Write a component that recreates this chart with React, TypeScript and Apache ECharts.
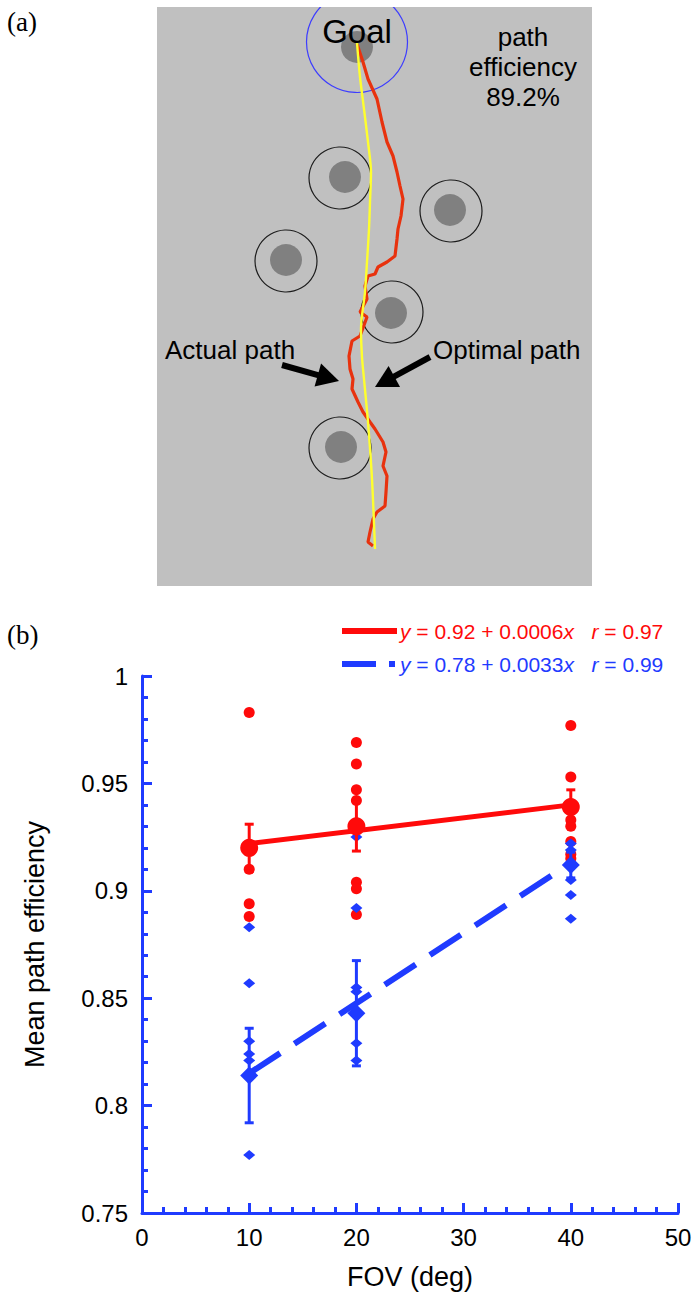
import React, { useEffect, useRef } from "react";
import * as echarts from "echarts";

// ---------- Panel (b) data ----------
const FOV = [10, 20, 40];
const redAt10 = [0.983, 0.91, 0.894, 0.888];
const redAt20 = [0.969, 0.959, 0.947, 0.942, 0.904, 0.901, 0.889];
const redAt40 = [0.977, 0.953, 0.933, 0.93, 0.923, 0.917, 0.915];
const blueAt10 = [0.883, 0.857, 0.83, 0.824, 0.821, 0.777];
const blueAt20 = [0.925, 0.892, 0.855, 0.853, 0.829, 0.821];
const blueAt40 = [0.922, 0.919, 0.905, 0.898, 0.887];
const redMeans = [0.92, 0.93, 0.939];
const redErr = [0.011, 0.0115, 0.008];
const blueMeans = [0.814, 0.843, 0.912];
const blueErr = [0.022, 0.0245, 0.006];
const fitX = [10, 40];
const redFit = [0.922, 0.94];
const blueFit = [0.815, 0.913];
const yTicks = [0.75, 0.8, 0.85, 0.9, 0.95, 1];
const xTicks = [0, 10, 20, 30, 40, 50];

// ---------- Panel (a) arena data (arena units, origin top-left) ----------
const goalRing = [[200, 35]];
const goalDisc = [[200, 40]];
const obstacleRings = [[183, 171], [294, 204], [129, 254], [235, 305], [183, 441]];
const obstacleDiscs = [[188, 170], [293, 203], [129, 253], [234, 306], [184, 440]];
const optimalPath = [
  [200, 36], [203, 70], [207, 102], [211, 135], [214, 165], [213, 195], [212, 222],
  [210, 255], [208, 285], [204, 322], [205, 350], [207, 372], [211, 415], [215, 472], [218, 542],
];
const actualPath = [
  [200, 37], [206, 55], [211, 72], [220, 92], [225, 115], [230, 135], [236, 149], [240, 165],
  [243, 179], [246, 192], [244, 209], [241, 222], [240, 232], [238, 249], [230, 255], [221, 260],
  [218, 267], [211, 269], [208, 279], [210, 292], [203, 305], [210, 310], [203, 329], [195, 334],
  [192, 349], [193, 362], [196, 372], [195, 382], [201, 395], [206, 405], [213, 415], [218, 422],
  [226, 435], [229, 445], [226, 459], [230, 469], [229, 485], [228, 499], [220, 505], [216, 512],
  [213, 525], [211, 535], [216, 539],
];

const RED = "#ff0a0a";
const BLUE = "#1f3bff";
const SANS = "Liberation Sans, Arial, Helvetica, sans-serif";
const SERIF = "Liberation Serif, Times New Roman, serif";

const pairs = (x: number, arr: number[]) => arr.map((v) => [x, v]);

function errorBars(means: number[], errs: number[], color: string) {
  return {
    type: "custom",
    xAxisIndex: 0,
    yAxisIndex: 0,
    z: 3,
    data: FOV.map((x, i) => [x, means[i] - errs[i], means[i] + errs[i]]),
    renderItem: (params: any, api: any) => {
      const x = api.value(0);
      const lo = api.coord([x, api.value(1)]);
      const hi = api.coord([x, api.value(2)]);
      const cap = 4.5;
      const style = { stroke: color, lineWidth: 3 };
      return {
        type: "group",
        children: [
          { type: "line", shape: { x1: lo[0], y1: lo[1], x2: hi[0], y2: hi[1] }, style },
          { type: "line", shape: { x1: hi[0] - cap, y1: hi[1], x2: hi[0] + cap, y2: hi[1] }, style },
          { type: "line", shape: { x1: lo[0] - cap, y1: lo[1], x2: lo[0] + cap, y2: lo[1] }, style },
        ],
      };
    },
  };
}

function arrow(tail: number[], tip: number[]) {
  const dx = tip[0] - tail[0];
  const dy = tip[1] - tail[1];
  const len = Math.hypot(dx, dy);
  const ux = dx / len;
  const uy = dy / len;
  const bx = tip[0] - 22 * ux;
  const by = tip[1] - 22 * uy;
  const nx = -uy;
  const ny = ux;
  return [
    {
      type: "line",
      z: 50,
      shape: { x1: tail[0], y1: tail[1], x2: bx + 2 * ux, y2: by + 2 * uy },
      style: { stroke: "#000", lineWidth: 6 },
    },
    {
      type: "polygon",
      z: 50,
      shape: {
        points: [
          [tip[0], tip[1]],
          [bx + 12 * nx, by + 12 * ny],
          [bx - 12 * nx, by - 12 * ny],
        ],
      },
      style: { fill: "#000" },
    },
  ];
}

export default function App() {
  const ref = useRef<HTMLDivElement>(null);

  useEffect(() => {
    if (!ref.current) return;
    const chart = echarts.init(ref.current, null, { renderer: "svg" });

    const axisCommon = {
      axisLine: { show: true, lineStyle: { color: BLUE, width: 3 } },
      axisTick: { show: true, inside: true, length: 10, lineStyle: { color: BLUE, width: 3 } },
      minorTick: { show: true, splitNumber: 5, length: 6, lineStyle: { color: BLUE, width: 3 } },
      splitLine: { show: false },
      minorSplitLine: { show: false },
    };

    const option: any = {
      animation: false,
      backgroundColor: "#ffffff",
      grid: [
        { left: 142, top: 676, width: 536, height: 537, show: false },
        {
          left: 157,
          top: 7,
          width: 435,
          height: 579,
          show: true,
          backgroundColor: "#c0c0c0",
          borderWidth: 0,
        },
      ],
      xAxis: [
        {
          type: "value",
          gridIndex: 0,
          min: xTicks[0],
          max: xTicks[xTicks.length - 1],
          interval: 10,
          ...axisCommon,
          axisLabel: {
            color: "#000",
            fontSize: 24,
            fontFamily: SANS,
            margin: 12,
            formatter: (v: number) => String(v),
          },
          name: "FOV (deg)",
          nameLocation: "middle",
          nameGap: 50,
          nameTextStyle: { color: "#000", fontSize: 27, fontFamily: SANS },
        },
        { type: "value", gridIndex: 1, min: 0, max: 435, show: false },
      ],
      yAxis: [
        {
          type: "value",
          gridIndex: 0,
          min: yTicks[0],
          max: yTicks[yTicks.length - 1],
          interval: 0.05,
          ...axisCommon,
          axisLabel: {
            color: "#000",
            fontSize: 24,
            fontFamily: SANS,
            margin: 14,
            formatter: (v: number) => String(Math.round(v * 100) / 100),
          },
          name: "Mean path efficiency",
          nameLocation: "middle",
          nameGap: 94,
          nameTextStyle: { color: "#000", fontSize: 27, fontFamily: SANS },
        },
        { type: "value", gridIndex: 1, min: 0, max: 579, inverse: true, show: false },
      ],
      series: [
        // ---------- panel (a) ----------
        {
          type: "scatter",
          xAxisIndex: 1,
          yAxisIndex: 1,
          data: obstacleDiscs,
          symbol: "circle",
          symbolSize: 32,
          itemStyle: { color: "#808080", opacity: 1 },
          z: 2,
        },
        {
          type: "scatter",
          xAxisIndex: 1,
          yAxisIndex: 1,
          data: goalDisc,
          symbol: "circle",
          symbolSize: 32,
          itemStyle: { color: "#808080", opacity: 1 },
          z: 2,
        },
        {
          type: "scatter",
          xAxisIndex: 1,
          yAxisIndex: 1,
          data: obstacleRings,
          symbol: "circle",
          symbolSize: 62,
          itemStyle: { color: "rgba(0,0,0,0)", borderColor: "#1c1c1c", borderWidth: 1.2, opacity: 1 },
          z: 2,
        },
        {
          type: "scatter",
          xAxisIndex: 1,
          yAxisIndex: 1,
          data: goalRing,
          symbol: "circle",
          symbolSize: 101,
          itemStyle: { color: "rgba(0,0,0,0)", borderColor: "#3c3cff", borderWidth: 1.2, opacity: 1 },
          z: 2,
        },
        {
          type: "line",
          xAxisIndex: 1,
          yAxisIndex: 1,
          data: actualPath,
          showSymbol: false,
          lineStyle: { color: "#e8320e", width: 3.2 },
          z: 3,
        },
        {
          type: "line",
          xAxisIndex: 1,
          yAxisIndex: 1,
          data: optimalPath,
          smooth: 0.3,
          showSymbol: false,
          lineStyle: { color: "#ffff2e", width: 2.4 },
          z: 4,
        },
        // ---------- panel (b) ----------
        {
          type: "scatter",
          data: [...pairs(10, redAt10), ...pairs(20, redAt20), ...pairs(40, redAt40)],
          symbol: "circle",
          symbolSize: 11,
          itemStyle: { color: RED, opacity: 1 },
          z: 2,
        },
        {
          type: "scatter",
          data: [...pairs(10, blueAt10), ...pairs(20, blueAt20), ...pairs(40, blueAt40)],
          symbol: "diamond",
          symbolSize: [12, 10],
          itemStyle: { color: BLUE, opacity: 1 },
          z: 2,
        },
        errorBars(redMeans, redErr, RED),
        errorBars(blueMeans, blueErr, BLUE),
        {
          type: "line",
          data: fitX.map((x, i) => [x, redFit[i]]),
          showSymbol: false,
          lineStyle: { color: RED, width: 5 },
          z: 4,
        },
        {
          type: "line",
          data: fitX.map((x, i) => [x, blueFit[i]]),
          showSymbol: false,
          lineStyle: { color: BLUE, width: 6, type: [37, 17], cap: "butt" },
          z: 4,
        },
        {
          type: "scatter",
          data: FOV.map((x, i) => [x, redMeans[i]]),
          symbol: "circle",
          symbolSize: 18,
          itemStyle: { color: RED, opacity: 1 },
          z: 5,
        },
        {
          type: "scatter",
          data: FOV.map((x, i) => [x, blueMeans[i]]),
          symbol: "diamond",
          symbolSize: 18,
          itemStyle: { color: BLUE, opacity: 1 },
          z: 5,
        },
      ],
      graphic: [
        // cover above arena box (goal ring clipped by the box)
        { type: "rect", z: 40, shape: { x: 150, y: 0, width: 450, height: 7 }, style: { fill: "#ffffff" } },
        {
          type: "text",
          z: 60,
          x: 7,
          y: 22,
          style: { text: "(a)", font: `27px ${SERIF}`, fill: "#000", verticalAlign: "middle" },
        },
        {
          type: "text",
          z: 60,
          x: 7,
          y: 635,
          style: { text: "(b)", font: `27px ${SERIF}`, fill: "#000", verticalAlign: "middle" },
        },
        {
          type: "text",
          z: 60,
          x: 357,
          y: 31,
          style: { text: "Goal", font: `33px ${SANS}`, fill: "#000", align: "center", verticalAlign: "middle" },
        },
        {
          type: "text",
          z: 60,
          x: 523,
          y: 67,
          style: {
            text: "path\nefficiency\n89.2%",
            font: `26px ${SANS}`,
            lineHeight: 30,
            fill: "#000",
            align: "center",
            verticalAlign: "middle",
          },
        },
        {
          type: "text",
          z: 60,
          x: 165,
          y: 350,
          style: { text: "Actual path", font: `26px ${SANS}`, fill: "#000", verticalAlign: "middle" },
        },
        {
          type: "text",
          z: 60,
          x: 433,
          y: 350,
          style: { text: "Optimal path", font: `26px ${SANS}`, fill: "#000", verticalAlign: "middle" },
        },
        ...arrow([282, 365], [339, 381]),
        ...arrow([430, 357], [375, 387]),
        // legend
        { type: "line", z: 60, shape: { x1: 342, y1: 631, x2: 397, y2: 631 }, style: { stroke: RED, lineWidth: 6 } },
        {
          type: "text",
          z: 60,
          x: 400,
          y: 631,
          style: {
            text: "{i|y} = 0.92 + 0.0006{i|x}   {i|r} = 0.97",
            font: `21px ${SANS}`,
            fill: RED,
            verticalAlign: "middle",
            rich: { i: { fontStyle: "italic", font: `italic 21px ${SANS}`, fill: RED } },
          },
        },
        { type: "line", z: 60, shape: { x1: 342, y1: 664, x2: 376, y2: 664 }, style: { stroke: BLUE, lineWidth: 6 } },
        { type: "line", z: 60, shape: { x1: 389, y1: 664, x2: 395, y2: 664 }, style: { stroke: BLUE, lineWidth: 6 } },
        {
          type: "text",
          z: 60,
          x: 400,
          y: 664,
          style: {
            text: "{i|y} = 0.78 + 0.0033{i|x}   {i|r} = 0.99",
            font: `21px ${SANS}`,
            fill: BLUE,
            verticalAlign: "middle",
            rich: { i: { fontStyle: "italic", font: `italic 21px ${SANS}`, fill: BLUE } },
          },
        },
      ],
    };

    chart.setOption(option);
    return () => chart.dispose();
  }, []);

  return (
    <div
      ref={ref}
      style={{ position: "absolute", left: 0, top: 0, width: 698, height: 1294, background: "#fff" }}
    />
  );
}
